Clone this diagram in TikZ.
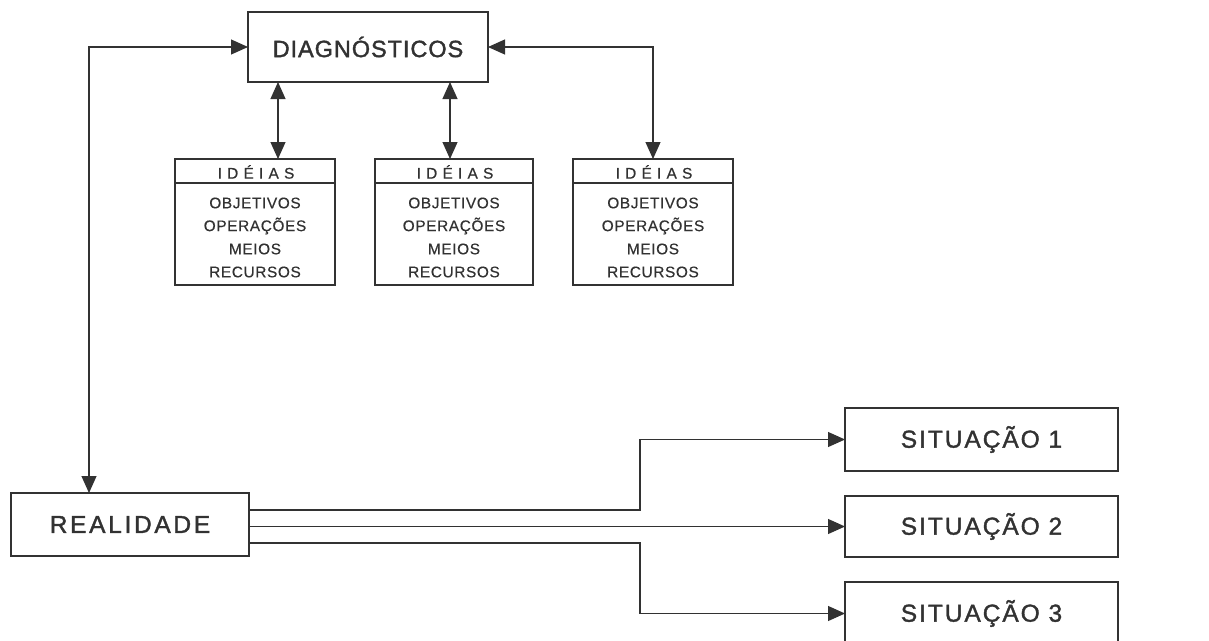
\documentclass[tikz,border=0pt]{standalone}
\usepackage{fontspec}
\setmainfont{Liberation Sans}
\newfontfamily\titlefont[LetterSpace=4,FakeBold=1.6]{Liberation Sans}
\newfontfamily\widefont[LetterSpace=11,FakeBold=1.6]{Liberation Sans}
\newfontfamily\sitfont[LetterSpace=8,FakeBold=1.4]{Liberation Sans}
\newfontfamily\headfont[LetterSpace=34,FakeBold=0.6]{Liberation Sans}
\newfontfamily\bodyfont[LetterSpace=4,FakeBold=0.3]{Liberation Sans}
\usetikzlibrary{arrows.meta}

\definecolor{ink}{RGB}{50,50,50}

\tikzset{
  box/.style={draw=ink, line width=1.6pt, inner sep=0pt, outer sep=0pt,
    text=ink, anchor=center},
  conn/.style={draw=ink, line width=1.1pt},
  tip/.style={-{Triangle[length=17pt,width=15pt]}},
  tips/.style={{Triangle[length=17pt,width=15pt]}-{Triangle[length=17pt,width=15pt]}},
  idtext/.style={text=ink, inner sep=0pt, font=\bodyfont\fontsize{15.4}{18}\selectfont},
  idhead/.style={text=ink, inner sep=0pt, font=\headfont\fontsize{15.4}{18}\selectfont},
}

\begin{document}
\begin{tikzpicture}[x=1pt,y=-1pt]
\clip (0,0) rectangle (1209,640);
\fill[white] (0,0) rectangle (1209,640);

% main boxes
\node[box, minimum width=240pt, minimum height=70pt,
      font=\titlefont\fontsize{23.5}{28}\selectfont] (diag) at (368,47) {DIAGNÓSTICOS};
\node[box, minimum width=238pt, minimum height=63pt,
      font=\widefont\fontsize{24.5}{28}\selectfont] (real) at (130,524.5) {REALIDADE};
\node[box, minimum width=273pt, minimum height=63pt,
      font=\sitfont\fontsize{24.5}{28}\selectfont] (sit1) at (981.5,439.5) {SITUAÇÃO 1};
\node[box, minimum width=273pt, minimum height=61pt,
      font=\sitfont\fontsize{24.5}{28}\selectfont] (sit2) at (981.5,526.5) {SITUAÇÃO 2};
\node[box, minimum width=273pt, minimum height=63pt,
      font=\sitfont\fontsize{24.5}{28}\selectfont] (sit3) at (981.5,613.5) {SITUAÇÃO 3};

% idea boxes: frame, header rule, header and item list
\foreach \n/\cx/\w in {id1/255/160, id2/454/158, id3/653/160}{
  \node[box, minimum width=\w pt, minimum height=126pt] (\n) at (\cx,222) {};
  \draw[draw=ink, line width=1.2pt] (\n.west |- 0,183) -- (\n.east |- 0,183);
  \node[idhead] (\n-h) at (\cx+1,172) {IDÉIAS};
  \node[idtext] (\n-a) at (\cx,203) {OBJETIVOS};
  \node[idtext] (\n-b) at (\cx,226) {OPERAÇÕES};
  \node[idtext] (\n-c) at (\cx,249) {MEIOS};
  \node[idtext] (\n-d) at (\cx,272) {RECURSOS};
}

% routing points
\coordinate (lft) at (89,0);
\coordinate (v1) at (278,0);
\coordinate (v2) at (450,0);
\coordinate (jn) at (640,0);
\coordinate (o1) at (249,510);
\coordinate (o3) at (249,543);

% diagnostics <-> reality
\draw[conn, tips] (diag.west) -| (lft |- real.north);
% diagnostics <-> ideas
\draw[conn, tips] (diag.south -| v1) -- (id1.north -| v1);
\draw[conn, tips] (diag.south -| v2) -- (id2.north -| v2);
\draw[conn, tips] (diag.east) -| (id3.north);

% reality -> situations
\draw[conn, tip] (o1) -| (jn |- sit1.west) -- (sit1.west);
\draw[conn, tip] (real.east |- sit2.west) -- (sit2.west);
\draw[conn, tip] (o3) -| (jn |- sit3.west) -- (sit3.west);
\end{tikzpicture}
\end{document}
